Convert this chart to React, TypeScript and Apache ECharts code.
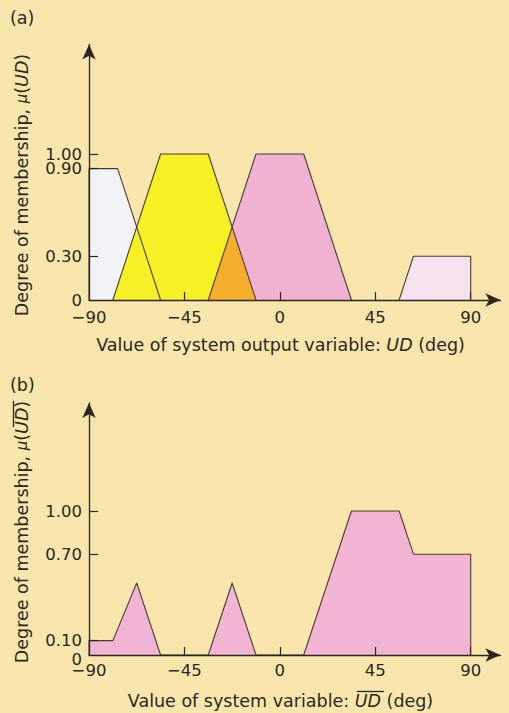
import React, { useEffect, useRef } from 'react';
import * as echarts from 'echarts';

// ---------- data ----------
const xLabelValues = [-90, -45, 0, 45, 90];
const xTickValues = [-45, 0, 45, 90];
const topYLabelValues = [0, 0.3, 0.9];
const topYLabelUpper = [1.0];
const topYTickValues = [0.3, 0.9, 1.0];
const bottomYLabelValues = [0, 0.1, 0.7, 1.0];
const bottomYTickValues = [0.1, 0.7, 1.0];

// (a) clipped membership functions
const shapeNB = [[-90, 0], [-90, 0.9], [-76.5, 0.9], [-56.25, 0]];
const shapeNS = [[-78.75, 0], [-56.25, 1], [-33.75, 1], [-11.25, 0]];
const shapeZE = [[-33.75, 0], [-11.25, 1], [11.25, 1], [33.75, 0]];
const overlapNSZE = [[-33.75, 0], [-22.5, 0.5], [-11.25, 0]];
const shapePB = [[56.25, 0], [63, 0.3], [90, 0.3], [90, 0]];

// (b) resulting membership function
const shapeResult = [
  [-90, 0], [-90, 0.1], [-78.75, 0.1], [-67.5, 0.5], [-56.25, 0],
  [-33.75, 0], [-22.5, 0.5], [-11.25, 0], [11.25, 0], [33.75, 1],
  [56.25, 1], [63, 0.7], [90, 0.7], [90, 0],
];

// ---------- styles ----------
const BG = '#F8E6AC';
const INK = '#2B2622';
const OUTLINE = '#4B3A35';
const FONT = '"DejaVu Sans", sans-serif';

const areaSeries = (data: number[][], color: string, idx: number) => ({
  type: 'line',
  xAxisIndex: idx,
  yAxisIndex: idx,
  data,
  symbol: 'none',
  showSymbol: false,
  silent: true,
  lineStyle: { width: 0, opacity: 0 },
  areaStyle: { color, opacity: 1 },
  z: 2,
});

const outlineSeries = (data: number[][], idx: number) => ({
  type: 'line',
  xAxisIndex: idx,
  yAxisIndex: idx,
  data,
  symbol: 'none',
  showSymbol: false,
  silent: true,
  lineStyle: { color: OUTLINE, width: 1.1 },
  z: 3,
});

const xAxisFor = (idx: number, margin: number) => ({
  type: 'value',
  gridIndex: idx,
  min: -90,
  max: 104,
  z: 4,
  axisLine: {
    show: true,
    onZero: false,
    lineStyle: { color: INK, width: 1.3 },
    symbol: ['none', 'arrow'],
    symbolSize: [10, 15],
  },
  axisTick: {
    show: true,
    inside: true,
    length: 8,
    customValues: xTickValues,
    lineStyle: { color: INK, width: 1.2 },
  },
  axisLabel: {
    customValues: xLabelValues,
    hideOverlap: false,
    margin,
    fontSize: 16.5,
    fontFamily: FONT,
    color: INK,
    formatter: (v: number) => (v < 0 ? '\u2212' + Math.abs(v) : String(v)),
  },
  splitLine: { show: false },
});

const yAxisFor = (idx: number, labels: number[], ticks: number[], zeroShift: boolean) => ({
  type: 'value',
  gridIndex: idx,
  min: 0,
  max: 1.75,
  z: 4,
  axisLine: {
    show: true,
    onZero: false,
    lineStyle: { color: INK, width: 1.3 },
    symbol: ['none', 'arrow'],
    symbolSize: [10, 15],
  },
  axisTick: {
    show: true,
    inside: true,
    length: 9,
    customValues: ticks,
    lineStyle: { color: INK, width: 1.2 },
  },
  axisLabel: {
    customValues: labels,
    hideOverlap: false,
    margin: 7,
    fontSize: 16.5,
    fontFamily: FONT,
    color: INK,
    formatter: (v: number) => (v === 0 ? (zeroShift ? '{z|0}' : '0') : v.toFixed(2)),
    rich: {
      z: { padding: [8, 0, 0, 0], fontSize: 16.5, fontFamily: FONT, color: INK },
    },
  },
  splitLine: { show: false },
});

// label-only axis for "1.00" in panel (a), which sits right above "0.90"
const yAxisLabelOnly = (idx: number, labels: number[]) => ({
  type: 'value',
  gridIndex: idx,
  min: 0,
  max: 1.75,
  position: 'left',
  offset: 0,
  z: 4,
  axisLine: { show: false },
  axisTick: { show: false },
  splitLine: { show: false },
  axisLabel: {
    customValues: labels,
    hideOverlap: false,
    margin: 7,
    fontSize: 16.5,
    fontFamily: FONT,
    color: INK,
    formatter: (v: number) => v.toFixed(2),
  },
});

const richTitle = {
  n: { fontSize: 17.5, fontFamily: FONT, fill: INK, color: INK },
  i: { fontSize: 17.5, fontFamily: FONT, fontStyle: 'italic', fill: INK, color: INK },
  m: { fontSize: 15, fontFamily: FONT, fontStyle: 'italic', fill: INK, color: INK },
};

export default function App() {
  const ref = useRef<HTMLDivElement>(null);

  useEffect(() => {
    if (!ref.current) return;
    const chart = echarts.init(ref.current, null, { renderer: 'svg' });
    chart.setOption({
      animation: false,
      backgroundColor: BG,
      grid: [
        { left: 89, top: 44.5, right: 8.6, bottom: 413 },
        { left: 89, top: 403, right: 8.6, bottom: 58 },
      ],
      xAxis: [xAxisFor(0, 9), xAxisFor(1, 7)],
      yAxis: [
        yAxisFor(0, topYLabelValues, topYTickValues, false),
        yAxisFor(1, bottomYLabelValues, bottomYTickValues, true),
        yAxisLabelOnly(0, topYLabelUpper),
      ],
      series: [
        areaSeries(shapeNB, '#F1F3F6', 0),
        areaSeries(shapeNS, '#F6F124', 0),
        areaSeries(shapeZE, '#F1B2D2', 0),
        areaSeries(overlapNSZE, '#F4AE2C', 0),
        areaSeries(shapePB, '#F6E2EF', 0),
        outlineSeries(shapeNB, 0),
        outlineSeries(shapeNS, 0),
        outlineSeries(shapeZE, 0),
        outlineSeries(shapePB, 0),
        areaSeries(shapeResult, '#F1B4D4', 1),
        outlineSeries(shapeResult, 1),
      ],
      graphic: [
        {
          type: 'text', left: 10, top: 9, z: 10,
          style: { text: '(a)', fontSize: 17.5, fontFamily: FONT, fill: INK },
        },
        {
          type: 'text', left: 10, top: 376, z: 10,
          style: { text: '(b)', fontSize: 17.5, fontFamily: FONT, fill: INK },
        },
        {
          type: 'text', x: 22, y: 185, rotation: Math.PI / 2, z: 10,
          style: {
            text: '{n|Degree of membership, }{m|\u03BC}{n|(}{i|UD}{n|)}',
            rich: richTitle, align: 'center', verticalAlign: 'middle', fill: INK,
          },
        },
        {
          type: 'text', x: 22, y: 532, rotation: Math.PI / 2, z: 10,
          style: {
            text: '{n|Degree of membership, }{m|\u03BC}{n|(}{i|UD}{n|)}',
            rich: richTitle, align: 'center', verticalAlign: 'middle', fill: INK,
          },
        },
        {
          type: 'line', z: 10,
          shape: { x1: 13.5, y1: 401, x2: 13.5, y2: 427 },
          style: { stroke: INK, lineWidth: 1.3 },
        },
        {
          type: 'text', x: 280.5, y: 345, z: 10,
          style: {
            text: '{n|Value of system output variable: }{i|UD}{n| (deg)}',
            rich: richTitle, align: 'center', verticalAlign: 'middle', fill: INK,
          },
        },
        {
          type: 'text', x: 280.5, y: 701, z: 10,
          style: {
            text: '{n|Value of system variable: }{i|UD}{n| (deg)}',
            rich: richTitle, align: 'center', verticalAlign: 'middle', fill: INK,
          },
        },
        {
          type: 'line', z: 10,
          shape: { x1: 357, y1: 691.5, x2: 384, y2: 691.5 },
          style: { stroke: INK, lineWidth: 1.3 },
        },
      ],
    });
    return () => chart.dispose();
  }, []);

  return (
    <div
      ref={ref}
      style={{ position: 'fixed', left: 0, top: 0, width: 509, height: 713 }}
    />
  );
}
